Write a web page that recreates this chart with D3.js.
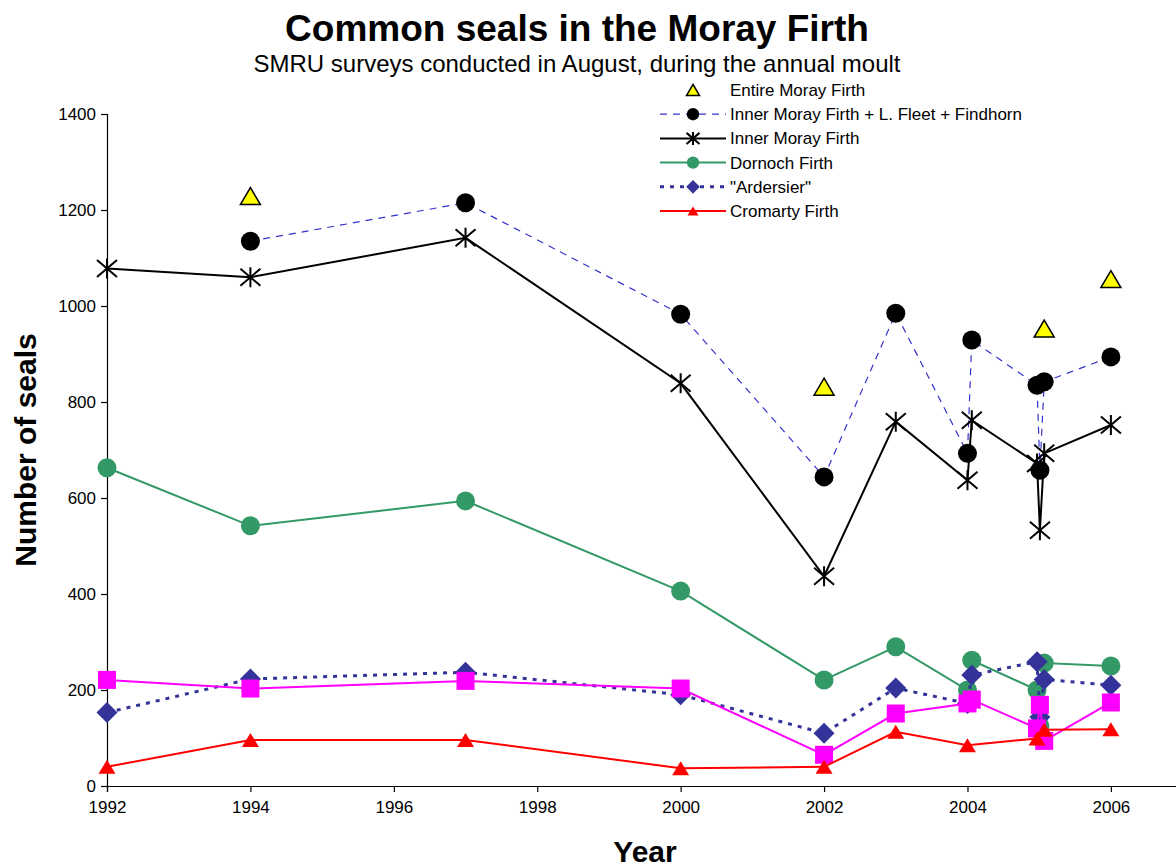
<!DOCTYPE html>
<html>
<head>
<meta charset="utf-8">
<script src="https://cdn.jsdelivr.net/npm/d3@7"></script>
<style>
  body { margin: 0; background: #fff; }
  text { font-family: "Liberation Sans", Arial, sans-serif; }
</style>
</head>
<body>
<div id="chart"></div>
<script>
// survey dates (several counts in 2004 and 2005, so fractional years)
var years = [1992, 1994, 1997, 2000, 2002, 2003, 2004.0, 2004.06, 2004.97, 2005.01, 2005.07, 2006];

var entireMoray = [null, 1229, null, null, 832, null, null, null, null, null, 953, 1056];
var innerPlus   = [null, 1135, 1215, 983, 644, 985, 693, 929, 835, 658, 842, 894];
var innerMoray  = [1078, 1060, 1142, 839, 437, 759, 637, 762, 672, 533, 693, 752];
var dornoch     = [663, 542, 594, 406, 221, 290, 200, 262, 200, 125, 256, 250];
var ardersier   = [153, 223, 237, 190, 110, 204, 172, 231, 259, 144, 222, 210];
var unlabelled  = [221, 203, 219, 203, 65, 151, 172, 180, 120, 169, 94, 174];
var cromarty    = [40, 96, 96, 37, 40, 113, 85, null, 99, null, 117, 118];

var xTicks = [1992, 1994, 1996, 1998, 2000, 2002, 2004, 2006];
var yTicks = [0, 200, 400, 600, 800, 1000, 1200, 1400];

var svgWidth = 1176;
var svgHeight = 867;

var svg = d3.select("#chart")
  .append("svg")
  .attr("width", svgWidth)
  .attr("height", svgHeight);

var x = d3.scaleLinear().domain([1992, 2007]).range([107, 1182.6]);
var y = d3.scaleLinear().domain([0, 1400]).range([786, 114]);

// axes
var yAxis = svg.append("g")
  .attr("transform", "translate(107,0)")
  .call(d3.axisLeft(y).tickValues(yTicks).tickSize(6).tickPadding(5).tickFormat(d3.format("d")));
var xAxis = svg.append("g")
  .attr("transform", "translate(0,786)")
  .call(d3.axisBottom(x).tickValues(xTicks).tickSize(6).tickPadding(9).tickFormat(d3.format("d")));
[xAxis, yAxis].forEach(function(a) {
  a.select(".domain").attr("stroke", "#000").attr("stroke-width", 1.2);
  a.selectAll(".tick line").attr("stroke", "#000").attr("stroke-width", 1.2);
  a.selectAll(".tick text").attr("font-size", "17px").attr("fill", "#000")
    .style("font-family", "Liberation Sans, Arial, sans-serif");
});

// marker shapes
function starPath(s) {
  return "M" + (-s) + "," + (-s * 0.85) + "L" + s + "," + (s * 0.85) +
         "M" + (-s) + "," + (s * 0.85) + "L" + s + "," + (-s * 0.85) +
         "M0," + (-s) + "L0," + s;
}
function triPath(w, h) {
  return "M0," + (-h / 2) + "L" + w + "," + (h / 2) + "L" + (-w) + "," + (h / 2) + "Z";
}
function diamondPath(s) {
  return "M0," + (-s) + "L" + s + ",0L0," + s + "L" + (-s) + ",0Z";
}
function squarePath(s) {
  return "M" + (-s) + "," + (-s) + "H" + s + "V" + s + "H" + (-s) + "Z";
}
function circlePath(r) {
  return d3.symbol().type(d3.symbolCircle).size(Math.PI * r * r)();
}

var series = [
  { name: "Entire Moray Firth", values: entireMoray, line: null,
    marker: function(k) { return triPath(10 * k, 17 * k); }, fill: "#ffff00", mstroke: "#000", mwidth: 1.5 },
  { name: "Inner Moray Firth + L. Fleet + Findhorn", values: innerPlus,
    line: { color: "#3333cc", width: 1.2, dash: "7,6" },
    marker: function(k) { return circlePath(9.5 * k); }, fill: "#000", mstroke: "none", mwidth: 0 },
  { name: "Inner Moray Firth", values: innerMoray,
    line: { color: "#000", width: 2, dash: null },
    marker: function(k) { return starPath(10 * k); }, fill: "none", mstroke: "#000", mwidth: 2 },
  { name: "Dornoch Firth", values: dornoch,
    line: { color: "#339966", width: 2, dash: null },
    marker: function(k) { return circlePath(9.5 * k); }, fill: "#339966", mstroke: "none", mwidth: 0 },
  { name: "\"Ardersier\"", values: ardersier,
    line: { color: "#333399", width: 3, dash: "4,6" },
    marker: function(k) { return diamondPath(10.5 * k); }, fill: "#333399", mstroke: "none", mwidth: 0 },
  { name: null, values: unlabelled,
    line: { color: "#ff00ff", width: 2, dash: null },
    marker: function(k) { return squarePath(9 * k); }, fill: "#ff00ff", mstroke: "none", mwidth: 0 },
  { name: "Cromarty Firth", values: cromarty,
    line: { color: "#ff0000", width: 2, dash: null },
    marker: function(k) { return triPath(8.5 * k, 14 * k); }, fill: "#ff0000", mstroke: "none", mwidth: 0 }
];

var line = d3.line()
  .x(function(d) { return x(d.year); })
  .y(function(d) { return y(d.value); });

series.forEach(function(s) {
  var pts = years.map(function(yr, i) { return { year: yr, value: s.values[i] }; })
    .filter(function(d) { return d.value !== null; });
  var g = svg.append("g");
  if (s.line) {
    g.append("path")
      .datum(pts)
      .attr("d", line)
      .attr("fill", "none")
      .attr("stroke", s.line.color)
      .attr("stroke-width", s.line.width)
      .attr("stroke-dasharray", s.line.dash);
  }
  g.selectAll(".pt").data(pts).enter()
    .append("path")
    .attr("transform", function(d) { return "translate(" + x(d.year) + "," + y(d.value) + ")"; })
    .attr("d", s.marker(1))
    .attr("fill", s.fill)
    .attr("stroke", s.mstroke)
    .attr("stroke-width", s.mwidth);
});

// legend
var legend = svg.append("g");
var legendRows = series.filter(function(s) { return s.name; });
legendRows.forEach(function(s, i) {
  var ly = 90 + i * 24.2;
  if (s.line) {
    legend.append("line")
      .attr("x1", 660).attr("x2", 726).attr("y1", ly).attr("y2", ly)
      .attr("stroke", s.line.color)
      .attr("stroke-width", s.line.width)
      .attr("stroke-dasharray", s.line.dash);
  }
  legend.append("path")
    .attr("transform", "translate(693," + ly + ")")
    .attr("d", s.marker(0.65))
    .attr("fill", s.fill)
    .attr("stroke", s.mstroke)
    .attr("stroke-width", s.mwidth);
  legend.append("text")
    .attr("x", 730).attr("y", ly + 6)
    .attr("font-size", "17px")
    .text(s.name);
});

// titles
svg.append("text")
  .attr("x", 577).attr("y", 41)
  .attr("text-anchor", "middle")
  .attr("font-size", "37px")
  .attr("font-weight", "bold")
  .text("Common seals in the Moray Firth");
svg.append("text")
  .attr("x", 577).attr("y", 72)
  .attr("text-anchor", "middle")
  .attr("font-size", "24px")
  .text("SMRU surveys conducted in August, during the annual moult");
svg.append("text")
  .attr("x", 645).attr("y", 862)
  .attr("text-anchor", "middle")
  .attr("font-size", "30px")
  .attr("font-weight", "bold")
  .text("Year");
svg.append("text")
  .attr("transform", "translate(36,450) rotate(-90)")
  .attr("text-anchor", "middle")
  .attr("font-size", "30px")
  .attr("font-weight", "bold")
  .text("Number of seals");
</script>
</body>
</html>
